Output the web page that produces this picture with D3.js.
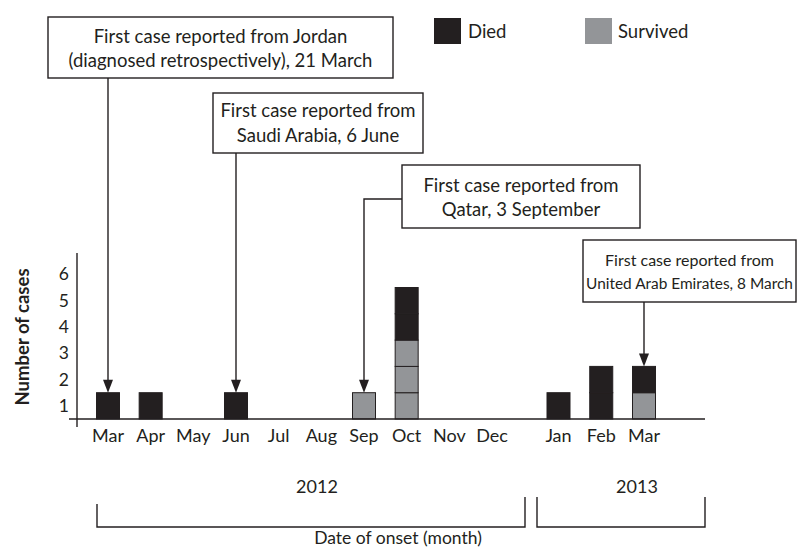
<!DOCTYPE html>
<html>
<head>
<meta charset="utf-8">
<script src="https://cdn.jsdelivr.net/npm/d3@7"></script>
<style>
  html, body { margin: 0; padding: 0; background: #fff; }
  svg { display: block; }
  text { font-family: Lato, "Open Sans", sans-serif; fill: #231f20; }
</style>
</head>
<body>
<svg id="chart" width="797" height="549"></svg>
<script>
// ---- data ----
const months   = ["Mar","Apr","May","Jun","Jul","Aug","Sep","Oct","Nov","Dec","Jan","Feb","Mar"];
const monthYear = ["2012","2012","2012","2012","2012","2012","2012","2012","2012","2012","2013","2013","2013"];
const died     = [1,1,0,1,0,0,0,2,0,0,1,2,1];
const survived = [0,0,0,0,0,0,1,3,0,0,0,0,1];
const yTicks   = [1,2,3,4,5,6];
const years    = ["2012","2013"];
const seriesNames = ["Died","Survived"];
const annotationTexts = [
  ["First case reported from Jordan", "(diagnosed retrospectively), 21 March"],
  ["First case reported from", "Saudi Arabia, 6 June"],
  ["First case reported from", "Qatar, 3 September"],
  ["First case reported from", "United Arab Emirates, 8 March"]
];
const annotationMonth = [0, 3, 6, 12];

// ---- styles / layout ----
const COL_DIED = "#231f20", COL_SURV = "#939598", INK = "#231f20";
const svg = d3.select("#chart");
const baseY = 419;

// piecewise x scale: gap between Dec 2012 and Jan 2013
const x = d3.scaleLinear().domain([0, 9, 10, 12]).range([108, 492, 558.5, 644]);
const y = d3.scaleLinear().domain([0, 6.5]).range([baseY, baseY - 6.5 * 26.3]);
const barW = 23;

// stacked rects: survived first (bottom), died on top
const cells = [];
months.forEach((m, i) => {
  let level = 0;
  for (let k = 0; k < survived[i]; k++) cells.push({i, level: level++, type: "s"});
  for (let k = 0; k < died[i]; k++) cells.push({i, level: level++, type: "d"});
});

svg.append("g").selectAll("rect").data(cells).join("rect")
  .attr("x", d => x(d.i) - barW / 2)
  .attr("y", d => y(d.level + 1))
  .attr("width", barW)
  .attr("height", d => y(d.level) - y(d.level + 1))
  .attr("fill", d => d.type === "d" ? COL_DIED : COL_SURV)
  .attr("stroke", INK)
  .attr("stroke-width", 1);

// axes lines
svg.append("line").attr("x1", 69).attr("x2", 705).attr("y1", baseY).attr("y2", baseY)
  .attr("stroke", INK).attr("stroke-width", 1.4);
svg.append("line").attr("x1", 77).attr("x2", 77).attr("y1", 253).attr("y2", 427)
  .attr("stroke", INK).attr("stroke-width", 1.4);

// y tick labels (centred in each unit band)
svg.append("g").selectAll("text").data(yTicks).join("text")
  .attr("x", 69).attr("y", d => y(d - 0.5))
  .attr("dy", "0.35em")
  .attr("text-anchor", "end")
  .style("font-size", "17.5px")
  .text(d => d);

// y axis title
svg.append("text")
  .attr("transform", `translate(29,337) rotate(-90)`)
  .attr("text-anchor", "middle")
  .style("font-size", "18.5px").style("font-weight", "bold")
  .text("Number of cases");

// month labels
svg.append("g").selectAll("text").data(months).join("text")
  .attr("x", (d, i) => x(i)).attr("y", 442)
  .attr("text-anchor", "middle")
  .style("font-size", "18px")
  .text(d => d);

// year brackets
const yearIdx = years.map(yr => {
  const idx = monthYear.map((v, i) => v === yr ? i : -1).filter(i => i >= 0);
  return {yr, first: idx[0], last: idx[idx.length - 1]};
});
const bracketEdges = [[97, 525], [537, 705]];
yearIdx.forEach((g, k) => {
  const [x0, x1] = bracketEdges[k];
  svg.append("path")
    .attr("d", `M${x0},${k === 0 ? 504 : 497}V527H${x1}V497`)
    .attr("fill", "none").attr("stroke", INK).attr("stroke-width", 1.4);
  svg.append("text")
    .attr("x", k === 0 ? 317 : 637).attr("y", 493)
    .attr("text-anchor", "middle").style("font-size", "18px")
    .text(g.yr);
});
svg.append("text").attr("x", 398).attr("y", 544)
  .attr("text-anchor", "middle").style("font-size", "17.5px")
  .text("Date of onset (month)");

// legend
const legendPos = [[434, 468], [585, 618]];
seriesNames.forEach((n, k) => {
  svg.append("rect").attr("x", legendPos[k][0]).attr("y", 18).attr("width", 27).attr("height", 26)
    .attr("fill", k === 0 ? COL_DIED : COL_SURV);
  svg.append("text").attr("x", legendPos[k][1]).attr("y", 38)
    .style("font-size", "18.5px").text(n);
});

// annotations
const boxes = [
  {x: 48, y: 17, w: 345, h: 61, lineY: [43, 67], fs: 18.5},
  {x: 213, y: 93, w: 210, h: 60, lineY: [117, 142], fs: 18.5},
  {x: 402, y: 165, w: 238, h: 63, lineY: [192, 216], fs: 18.5},
  {x: 583, y: 240, w: 213, h: 62, lineY: [266, 289], fs: 16}
];
const arrowG = svg.append("g");
boxes.forEach((b, k) => {
  const mi = annotationMonth[k];
  const tx = x(mi);
  const ty = y(died[mi] + survived[mi]);
  let path;
  if (k === 2) {
    const hy = 199;
    path = `M${b.x},${hy}H${tx}V${ty - 10}`;
  } else {
    path = `M${tx},${b.y + b.h}V${ty - 10}`;
  }
  arrowG.append("path").attr("d", path).attr("fill", "none")
    .attr("stroke", INK).attr("stroke-width", 1.4);
  arrowG.append("path")
    .attr("d", `M${tx - 5},${ty - 13}L${tx + 5},${ty - 13}L${tx},${ty}Z`)
    .attr("fill", INK);
  svg.append("rect").attr("x", b.x).attr("y", b.y).attr("width", b.w).attr("height", b.h)
    .attr("fill", "#fff").attr("stroke", INK).attr("stroke-width", 1.4);
  annotationTexts[k].forEach((t, j) => {
    const el = svg.append("text").attr("x", b.x + b.w / 2).attr("y", b.lineY[j])
      .attr("text-anchor", "middle").style("font-size", b.fs + "px").text(t);
    // shrink a line if it would not fit inside its box
    const maxW = b.w - 6;
    const len = el.node().getComputedTextLength();
    if (len > maxW) el.style("font-size", (b.fs * maxW / len).toFixed(2) + "px");
  });
});
</script>
</body>
</html>
